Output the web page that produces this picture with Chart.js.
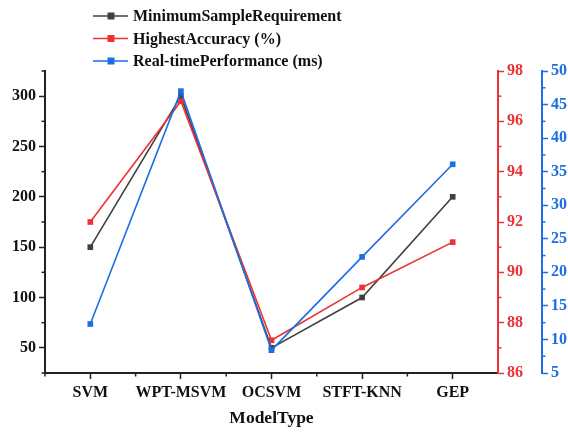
<!DOCTYPE html>
<html lang="en">
<head>
<meta charset="utf-8"/>
<title>Model Type Comparison</title>
<script src="https://cdn.jsdelivr.net/npm/chart.js"></script>
<style>
  body { margin: 0; background: #fff; }
  #wrap { width: 568px; height: 433px; }
</style>
</head>
<body>
<div id="wrap"><canvas id="chart" width="568" height="433"></canvas></div>
<script>
  // data
  const modelTypes = ['SVM', 'WPT-MSVM', 'OCSVM', 'STFT-KNN', 'GEP'];
  const minSamples = [150, 300, 50, 100, 200];
  const accuracy = [92, 96.8, 87.3, 89.4, 91.2];
  const realtime = [12.3, 47, 8.4, 22.3, 36.1];

  const leftTicks = [50, 100, 150, 200, 250, 300];
  const seriesNames = ['MinimumSampleRequirement', 'HighestAccuracy (%)', 'Real-timePerformance (ms)'];

  const GREY = 'rgb(64,64,64)';
  const RED = 'rgb(236,50,52)';
  const BLUE = 'rgb(28,110,228)';
  const FONT = "'Liberation Serif', 'Times New Roman', serif";

  // minor tick settings per y scale
  const minorTicks = {
    y: { from: 25, to: 325, step: 50, color: '#222' },
    yAcc: { from: 87, to: 97, step: 2, color: RED },
    yTime: { from: 7.5, to: 47.5, step: 5, color: BLUE }
  };

  const extras = {
    id: 'extras',
    afterDraw(chart) {
      const ctx = chart.ctx;
      ctx.save();
      ctx.lineWidth = 1.5;
      // minor ticks on the y axes
      Object.keys(minorTicks).forEach(id => {
        const s = chart.scales[id];
        const m = minorTicks[id];
        const left = s.position === 'left';
        const x0 = left ? s.right : s.left;
        ctx.strokeStyle = m.color;
        for (let v = m.from; v <= m.to + 1e-6; v += m.step) {
          const y = s.getPixelForValue(v);
          ctx.beginPath();
          ctx.moveTo(x0, y);
          ctx.lineTo(left ? x0 - 3.5 : x0 + 3.5, y);
          ctx.stroke();
        }
      });
      // minor ticks between categories
      const xs = chart.scales.x;
      ctx.strokeStyle = '#222';
      const half = (xs.getPixelForTick(1) - xs.getPixelForTick(0)) / 2;
      for (let i = 0; i < modelTypes.length; i++) {
        const px = xs.getPixelForTick(i) - half;
        ctx.beginPath();
        ctx.moveTo(px, xs.top);
        ctx.lineTo(px, xs.top + 3.5);
        ctx.stroke();
      }

      // legend: line - square - line, stacked
      const colors = [GREY, RED, BLUE];
      ctx.font = 'bold 16px ' + FONT;
      ctx.textBaseline = 'middle';
      seriesNames.forEach((name, i) => {
        const y = 16 + i * 22.5;
        ctx.strokeStyle = colors[i];
        ctx.lineWidth = 1.6;
        ctx.beginPath();
        ctx.moveTo(93, y);
        ctx.lineTo(128, y);
        ctx.stroke();
        ctx.fillStyle = colors[i];
        ctx.fillRect(107.5, y - 3.5, 7, 7);
        ctx.fillStyle = '#111';
        ctx.fillText(name, 133, y + 1);
      });
      ctx.restore();
    }
  };

  function axisTicks(color) {
    return {
      display: true,
      drawOnChartArea: false,
      drawTicks: true,
      tickLength: 6,
      tickWidth: 1.5,
      tickColor: color
    };
  }

  new Chart(document.getElementById('chart'), {
    type: 'line',
    data: {
      labels: modelTypes,
      datasets: [
        { label: seriesNames[0], data: minSamples, yAxisID: 'y', borderColor: GREY, backgroundColor: GREY, order: 2 },
        { label: seriesNames[1], data: accuracy, yAxisID: 'yAcc', borderColor: RED, backgroundColor: RED, order: 1 },
        { label: seriesNames[2], data: realtime, yAxisID: 'yTime', borderColor: BLUE, backgroundColor: BLUE, order: 0 }
      ]
    },
    options: {
      responsive: false,
      animation: false,
      layout: { padding: { top: 71, right: 0, bottom: 0, left: 0 } },
      elements: {
        line: { borderWidth: 1.6, tension: 0 },
        point: { pointStyle: 'rect', radius: 4, borderWidth: 0 }
      },
      plugins: {
        legend: { display: false },
        tooltip: { enabled: false }
      },
      scales: {
        x: {
          offset: true,
          grid: Object.assign(axisTicks('#222'), { offset: false }),
          border: { color: '#222', width: 2 },
          ticks: {
            color: '#111', padding: 4, autoSkip: false, maxRotation: 0, minRotation: 0,
            font: { family: FONT, size: 16, weight: 'bold' }
          },
          title: {
            display: true,
            text: 'ModelType',
            color: '#111',
            padding: { top: 2, bottom: 4 },
            font: { family: FONT, size: 17.5, weight: 'bold' }
          },
          afterFit(s) { s.height = 60; }
        },
        y: {
          position: 'left',
          min: 25,
          max: 325,
          grid: axisTicks('#222'),
          border: { color: '#222', width: 2 },
          ticks: { color: '#111', padding: 3, font: { family: FONT, size: 16, weight: 'bold' } },
          afterBuildTicks(s) { s.ticks = leftTicks.map(v => ({ value: v })); },
          afterFit(s) { s.width = 45; }
        },
        yAcc: {
          position: 'right',
          min: 86,
          max: 98,
          grid: axisTicks(RED),
          border: { color: RED, width: 2 },
          ticks: { stepSize: 2, color: RED, padding: 3, font: { family: FONT, size: 16, weight: 'bold' } },
          afterFit(s) { s.width = 44; }
        },
        yTime: {
          position: 'right',
          min: 5,
          max: 50,
          grid: axisTicks(BLUE),
          border: { color: BLUE, width: 2 },
          ticks: { stepSize: 5, color: BLUE, padding: 3, font: { family: FONT, size: 16, weight: 'bold' } },
          afterFit(s) { s.width = 26; }
        }
      }
    },
    plugins: [extras]
  });
</script>
</body>
</html>
